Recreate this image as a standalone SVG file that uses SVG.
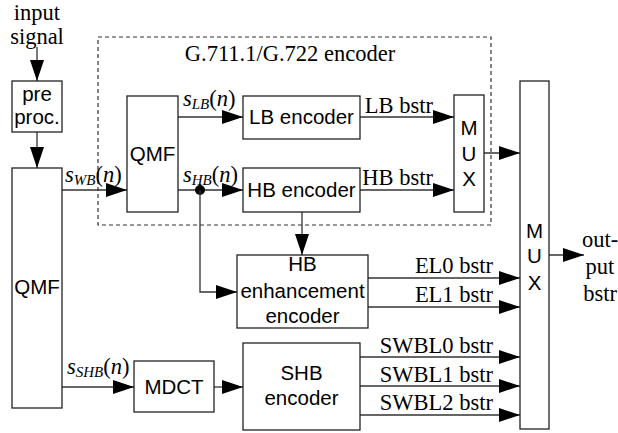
<svg xmlns="http://www.w3.org/2000/svg" width="618" height="433" viewBox="0 0 618 433">
<defs>
<marker id="ah" markerUnits="userSpaceOnUse" markerWidth="21" markerHeight="14" refX="21" refY="7" orient="auto">
<path d="M0,0 L21,7 L0,14 z" fill="#000"/>
</marker>
<style>
.box{fill:#fff;stroke:#222;stroke-width:1.3}
.ln{fill:none;stroke:#333;stroke-width:1.3}
.ar{fill:none;stroke:#333;stroke-width:1.3;marker-end:url(#ah)}
.sf{font-family:"Liberation Serif","Times New Roman",serif;font-size:22.5px;fill:#000}
.ss{font-family:"Liberation Sans",Arial,sans-serif;font-size:20.5px;fill:#000}
.it{font-style:italic}
.sub{font-size:15px;font-style:italic}
</style>
</defs>
<rect width="618" height="433" fill="#fff"/>

<g id="g711-encoder-group">
<rect x="98" y="37" width="393" height="188" fill="none" stroke="#333" stroke-width="1.2" stroke-dasharray="4,3"/>
<text class="sf" x="290" y="61" text-anchor="middle">G.711.1/G.722 encoder</text>
</g>

<g id="connectors">
<path class="ar" d="M37,47 V81"/>
<path class="ar" d="M37,132 V168"/>
<path class="ar" d="M62,190 H127"/>
<path class="ar" d="M178,117 H243"/>
<path class="ar" d="M178,190 H243"/>
<circle cx="200" cy="190" r="5" fill="#000"/>
<path class="ar" d="M200,190 V292 H237"/>
<path class="ar" d="M302,212 V255"/>
<path class="ar" d="M360,117 H454"/>
<path class="ar" d="M360,190 H454"/>
<path class="ar" d="M484,153 H520"/>
<path class="ar" d="M368,278 H520"/>
<path class="ar" d="M368,307 H520"/>
<path class="ar" d="M62,387 H134"/>
<path class="ar" d="M214,387 H243"/>
<path class="ar" d="M360,357 H520"/>
<path class="ar" d="M360,386 H520"/>
<path class="ar" d="M360,415 H520"/>
<path class="ar" d="M549,255 H584"/>
</g>

<g id="labels">
<text class="sf" x="37" y="20" text-anchor="middle">input</text>
<text class="sf" x="37" y="44" text-anchor="middle">signal</text>
<text class="sf" x="65" y="182"><tspan class="it">s</tspan><tspan class="sub" dy="3">WB</tspan><tspan dy="-3">(</tspan><tspan class="it">n</tspan>)</text>
<text class="sf" x="183" y="106"><tspan class="it">s</tspan><tspan class="sub" dy="3">LB</tspan><tspan dy="-3">(</tspan><tspan class="it">n</tspan>)</text>
<text class="sf" x="183" y="182"><tspan class="it">s</tspan><tspan class="sub" dy="3">HB</tspan><tspan dy="-3">(</tspan><tspan class="it">n</tspan>)</text>
<text class="sf" x="67" y="374"><tspan class="it">s</tspan><tspan class="sub" dy="3">SHB</tspan><tspan dy="-3">(</tspan><tspan class="it">n</tspan>)</text>
<text class="sf" x="433" y="113" text-anchor="end">LB bstr</text>
<text class="sf" x="433" y="185" text-anchor="end">HB bstr</text>
<text class="sf" x="493" y="273" text-anchor="end">EL0 bstr</text>
<text class="sf" x="493" y="302" text-anchor="end">EL1 bstr</text>
<text class="sf" x="493" y="353" text-anchor="end">SWBL0 bstr</text>
<text class="sf" x="493" y="382" text-anchor="end">SWBL1 bstr</text>
<text class="sf" x="493" y="410" text-anchor="end">SWBL2 bstr</text>
<text class="sf" x="600" y="247" text-anchor="middle">out-</text>
<text class="sf" x="600" y="274" text-anchor="middle">put</text>
<text class="sf" x="600" y="301" text-anchor="middle">bstr</text>
</g>

<g id="preproc">
<rect class="box" x="12" y="81" width="50" height="51"/>
<text class="ss" x="37" y="101" text-anchor="middle">pre</text>
<text class="ss" x="37" y="124" text-anchor="middle">proc.</text>
</g>

<g id="qmf-main">
<rect class="box" x="12" y="168" width="50" height="240"/>
<text class="ss" x="37" y="294" text-anchor="middle">QMF</text>
</g>

<g id="qmf-inner">
<rect class="box" x="127" y="96" width="51" height="116"/>
<text class="ss" x="152.5" y="161" text-anchor="middle">QMF</text>
</g>

<g id="lb-encoder">
<rect class="box" x="243" y="96" width="117" height="43"/>
<text class="ss" x="301.5" y="124" text-anchor="middle">LB encoder</text>
</g>

<g id="hb-encoder">
<rect class="box" x="243" y="168" width="117" height="44"/>
<text class="ss" x="301.5" y="197" text-anchor="middle">HB encoder</text>
</g>

<g id="mux-inner">
<rect class="box" x="454" y="95" width="30" height="117"/>
<text class="ss" x="469" y="135" text-anchor="middle">M</text>
<text class="ss" x="469" y="161" text-anchor="middle">U</text>
<text class="ss" x="469" y="186" text-anchor="middle">X</text>
</g>

<g id="mux-main">
<rect class="box" x="520" y="81" width="29" height="348"/>
<text class="ss" x="534.5" y="238" text-anchor="middle">M</text>
<text class="ss" x="534.5" y="263" text-anchor="middle">U</text>
<text class="ss" x="534.5" y="290" text-anchor="middle">X</text>
</g>

<g id="hb-enh-encoder">
<rect class="box" x="237" y="255" width="131" height="73"/>
<text class="ss" x="302.5" y="271" text-anchor="middle">HB</text>
<text class="ss" x="302.5" y="298" text-anchor="middle">enhancement</text>
<text class="ss" x="302.5" y="323" text-anchor="middle">encoder</text>
</g>

<g id="mdct">
<rect class="box" x="134" y="361" width="80" height="51"/>
<text class="ss" x="174" y="394" text-anchor="middle">MDCT</text>
</g>

<g id="shb-encoder">
<rect class="box" x="243" y="343" width="117" height="87"/>
<text class="ss" x="301.5" y="380" text-anchor="middle">SHB</text>
<text class="ss" x="301.5" y="405" text-anchor="middle">encoder</text>
</g>
</svg>
